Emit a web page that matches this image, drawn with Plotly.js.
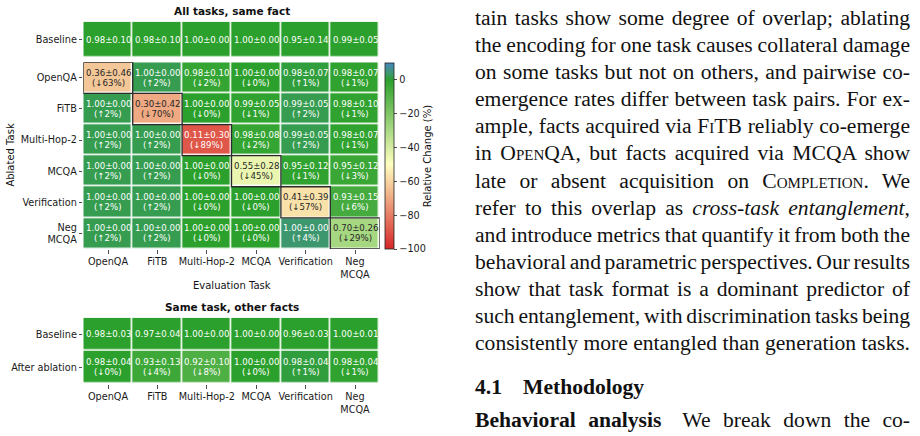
<!DOCTYPE html>
<html>
<head>
<meta charset="utf-8">
<script src="https://cdn.plot.ly/plotly-3.0.1.min.js"></script>
<style>
  html, body { margin: 0; padding: 0; background: #fff; }
  #wrap { position: relative; width: 920px; height: 436px; overflow: hidden; }
  #chart { position: absolute; left: 0; top: 0; width: 920px; height: 436px; }
  .prose { position: absolute; left: 475px; width: 435px;
           font-family: "Liberation Serif", "Times New Roman", serif;
           font-size: 21.6px; line-height: 27.1px; color: #111; }
  .ln { white-space: nowrap; }
  .sc { font-variant: small-caps; }
</style>
</head>
<body>
<div id="wrap">
  <div id="chart"></div>
  <div class="prose" style="top:5px">
    <div class="ln">tain tasks show some degree of overlap; ablating</div>
    <div class="ln">the encoding for one task causes collateral damage</div>
    <div class="ln">on some tasks but not on others, and pairwise co-</div>
    <div class="ln">emergence rates differ between task pairs. For ex-</div>
    <div class="ln">ample, facts acquired via <span class="sc">FiTB</span> reliably co-emerge</div>
    <div class="ln">in <span class="sc">OpenQA</span>, but facts acquired via MCQA show</div>
    <div class="ln">late or absent acquisition on <span class="sc">Completion</span>. We</div>
    <div class="ln">refer to this overlap as <i>cross-task entanglement</i>,</div>
    <div class="ln">and introduce metrics that quantify it from both the</div>
    <div class="ln">behavioral and parametric perspectives. Our results</div>
    <div class="ln">show that task format is a dominant predictor of</div>
    <div class="ln">such entanglement, with discrimination tasks being</div>
    <div class="ln">consistently more entangled than generation tasks.</div>
  </div>
  <div class="prose" style="top:374px"><b>4.1<span style="display:inline-block;width:21px"></span>Methodology</b></div>
  <div class="prose" style="top:407px">
    <div class="ln"><b>Behavioral analysis</b><span style="display:inline-block;width:9px"></span> We break down the co-</div>
  </div>
</div>
<script>
// Tasks (evaluation columns, ablated rows)
const evalTasks = ['OpenQA', 'FiTB', 'Multi-Hop-2', 'MCQA', 'Verification', 'Neg MCQA'];
const ablatedTasks = ['OpenQA', 'FiTB', 'Multi-Hop-2', 'MCQA', 'Verification', 'Neg MCQA'];

// "All tasks, same fact": baseline accuracy per evaluation task
const baseMean = [0.98, 0.98, 1.00, 1.00, 0.95, 0.99];
const baseStd  = [0.10, 0.10, 0.00, 0.00, 0.14, 0.05];

// Accuracy after ablating each task (rows) on each evaluation task (cols)
const ablMean = [
  [0.36, 1.00, 0.98, 1.00, 0.98, 0.98],
  [1.00, 0.30, 1.00, 0.99, 0.99, 0.98],
  [1.00, 1.00, 0.11, 0.98, 0.99, 0.98],
  [1.00, 1.00, 1.00, 0.55, 0.95, 0.95],
  [1.00, 1.00, 1.00, 1.00, 0.41, 0.93],
  [1.00, 1.00, 1.00, 1.00, 1.00, 0.70]
];
const ablStd = [
  [0.46, 0.00, 0.10, 0.00, 0.07, 0.07],
  [0.00, 0.42, 0.00, 0.05, 0.05, 0.10],
  [0.00, 0.00, 0.30, 0.08, 0.05, 0.07],
  [0.00, 0.00, 0.00, 0.28, 0.12, 0.12],
  [0.00, 0.00, 0.00, 0.00, 0.39, 0.15],
  [0.00, 0.00, 0.00, 0.00, 0.00, 0.26]
];
// Relative change vs. baseline (%); -0 marks a rounded-to-zero drop
const ablChange = [
  [-63,   2,  -2,  -0,   1,  -1],
  [  2, -70,  -0,  -1,   2,  -1],
  [  2,   2, -89,  -2,   2,  -1],
  [  2,   2,  -0, -45,  -1,  -3],
  [  2,   2,  -0,  -0, -57,  -6],
  [  2,   2,  -0,  -0,   4, -29]
];

// "Same task, other facts"
const otherBaseMean = [0.98, 0.97, 1.00, 1.00, 0.96, 1.00];
const otherBaseStd  = [0.03, 0.04, 0.00, 0.00, 0.03, 0.01];
const otherAblMean  = [0.98, 0.93, 0.92, 1.00, 0.98, 0.98];
const otherAblStd   = [0.04, 0.13, 0.10, 0.00, 0.04, 0.04];
const otherAblChange = [-0, -4, -8, -0, 1, -1];

const rowLabels2 = ['Baseline', 'After ablation'];

// ---- colour scale (value -> colour), normalised to [cmin, cmax]
const cmin = -100, cmax = 10;
const stops = [
  [-100, '#d62728'],
  [-50,  '#ffffbf'],
  [0,    '#2ca02c'],
  [3,    '#3a9a62'],
  [10,   '#4a86bf']
];
const colorscale = stops.map(s => [(s[0] - cmin) / (cmax - cmin), s[1]]);

const idx = evalTasks.map((_, i) => i);
const tickLabel = s => s.replace(' ', '<br>');
const isDown = v => v < 0 || Object.is(v, -0);
const fmt = (m, s) => m.toFixed(2) + '±' + s.toFixed(2);
const pct = v => '(' + (isDown(v) ? '↓' : '↑') + Math.abs(v) + '%)';
const txtColor = v => (v < -18 && v > -80) ? '#262626' : '#ffffff';

// ---- geometry (paper fractions)
const W = 920, H = 436;
const xDom = [83.3 / W, 379.7 / W];
const yMain = [1 - 249 / H, 1 - 62.3 / H];
const yBase = [1 - 57.3 / H, 1 - 21.7 / H];
const yOther = [1 - 384 / H, 1 - 317.7 / H];

const zero = evalTasks.map(() => 0);

const common = { type: 'heatmap', coloraxis: 'coloraxis', xgap: 1.6, ygap: 1.6, hoverinfo: 'skip' };
const traces = [
  Object.assign({}, common, { x: idx, y: ablatedTasks.map((_, i) => i), z: ablChange, xaxis: 'x', yaxis: 'y' }),
  Object.assign({}, common, { x: idx, y: [0], z: [zero], xaxis: 'x2', yaxis: 'y2' }),
  Object.assign({}, common, { x: idx, y: [0, 1], z: [zero, otherAblChange], xaxis: 'x3', yaxis: 'y3' })
];

// ---- cell labels
const annotations = [];
const cellFont = (c) => ({ family: 'DejaVu Sans', size: 8.6, color: c });
function cell2(xr, yr, x, y, top, bottom, change) {
  const c = txtColor(change);
  annotations.push({ xref: xr, yref: yr, x: x, y: y, text: top, showarrow: false, yshift: 5, font: cellFont(c) });
  annotations.push({ xref: xr, yref: yr, x: x, y: y, text: bottom, showarrow: false, yshift: -5, font: cellFont(c) });
}
ablatedTasks.forEach((_, i) => idx.forEach(j => {
  cell2('x', 'y', j, i, fmt(ablMean[i][j], ablStd[i][j]), pct(ablChange[i][j]), ablChange[i][j]);
}));
idx.forEach(j => {
  annotations.push({ xref: 'x2', yref: 'y2', x: j, y: 0, text: fmt(baseMean[j], baseStd[j]), showarrow: false, font: cellFont('#ffffff') });
  annotations.push({ xref: 'x3', yref: 'y3', x: j, y: 0, text: fmt(otherBaseMean[j], otherBaseStd[j]), showarrow: false, font: cellFont('#ffffff') });
  cell2('x3', 'y3', j, 1, fmt(otherAblMean[j], otherAblStd[j]), pct(otherAblChange[j]), otherAblChange[j]);
});

// ---- titles
const titleFont = { family: 'DejaVu Sans', size: 10.5, color: '#111' };
const labFont = { family: 'DejaVu Sans', size: 10, color: '#111' };
function paperText(x, y, text, font, angle) {
  annotations.push({ xref: 'paper', yref: 'paper', x: x / W, y: 1 - y / H, text: text,
                     xanchor: 'center', yanchor: 'middle', textangle: angle || 0,
                     showarrow: false, font: font });
}
paperText(231.5, 11, '<b>All tasks, same fact</b>', titleFont);
paperText(231.5, 306.7, '<b>Same task, other facts</b>', titleFont);
paperText(231.5, 285, 'Evaluation Task', labFont);
paperText(11, 155.6, 'Ablated Task', labFont, -90);

// ---- outline the diagonal (task ablated == task evaluated)
const shapes = ablatedTasks.map((t, i) => {
  const j = evalTasks.indexOf(t);
  return { type: 'rect', xref: 'x', yref: 'y', x0: j - 0.5, x1: j + 0.5, y0: i - 0.5, y1: i + 0.5,
           line: { color: '#2b2b2b', width: 1.3 }, layer: 'above' };
});

const tickStyle = { ticks: 'outside', ticklen: 3.5, tickwidth: 0.8, tickcolor: '#222',
                    showgrid: false, zeroline: false, showline: false, fixedrange: true,
                    tickfont: { family: 'DejaVu Sans', size: 9.7, color: '#1a1a1a' } };
const ax = o => Object.assign({}, tickStyle, o);

const layout = {
  width: W, height: H, margin: { l: 0, r: 0, t: 0, b: 0 },
  paper_bgcolor: '#ffffff', plot_bgcolor: '#ffffff',
  font: { family: 'DejaVu Sans', size: 9.7, color: '#1a1a1a' },
  showlegend: false,
  xaxis: ax({ domain: xDom, anchor: 'y', range: [-0.5, 5.5], tickvals: idx, ticktext: evalTasks.map(tickLabel) }),
  yaxis: ax({ domain: yMain, anchor: 'x', range: [5.5, -0.5], tickvals: idx, ticktext: ablatedTasks.map(tickLabel) }),
  xaxis2: ax({ domain: xDom, anchor: 'y2', range: [-0.5, 5.5], showticklabels: false, ticks: '' }),
  yaxis2: ax({ domain: yBase, anchor: 'x2', range: [0.5, -0.5], tickvals: [0], ticktext: ['Baseline'] }),
  xaxis3: ax({ domain: xDom, anchor: 'y3', range: [-0.5, 5.5], tickvals: idx, ticktext: evalTasks.map(tickLabel) }),
  yaxis3: ax({ domain: yOther, anchor: 'x3', range: [1.5, -0.5], tickvals: [0, 1], ticktext: rowLabels2 }),
  coloraxis: {
    cmin: cmin, cmax: cmax, colorscale: colorscale,
    colorbar: {
      x: 385 / W, xanchor: 'left', xpad: 0, ypad: 0,
      y: yMain[0], yanchor: 'bottom', len: (249 - 62.7) / H, lenmode: 'fraction',
      thickness: 9, thicknessmode: 'pixels',
      outlinewidth: 0.8, outlinecolor: '#222',
      tickvals: [0, -20, -40, -60, -80, -100],
      ticks: 'outside', ticklen: 3.5, tickwidth: 0.8, tickcolor: '#222',
      tickfont: { family: 'DejaVu Sans', size: 9.7, color: '#1a1a1a' },
      title: { text: 'Relative Change (%)', side: 'right', font: { family: 'DejaVu Sans', size: 10, color: '#111' } }
    }
  },
  annotations: annotations,
  shapes: shapes
};

Plotly.newPlot('chart', traces, layout, { staticPlot: true, displayModeBar: false });

// Justify each prose line to the column width
function justify() {
  const target = 435;
  document.querySelectorAll('.ln').forEach(el => {
    el.style.display = 'inline-block';
    el.style.wordSpacing = '0px';
    const w = el.getBoundingClientRect().width;
    const n = (el.textContent.match(/ /g) || []).length;
    if (n > 0) el.style.wordSpacing = ((target - w) / n) + 'px';
    el.style.display = 'block';
  });
}
if (document.fonts && document.fonts.ready) document.fonts.ready.then(justify); else justify();
</script>
</body>
</html>
